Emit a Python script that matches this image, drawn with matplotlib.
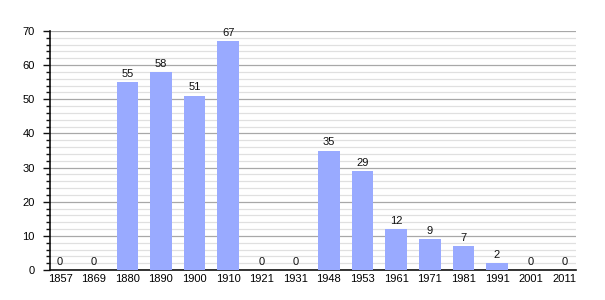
import matplotlib
matplotlib.use("Agg")
import matplotlib.pyplot as plt
from matplotlib.ticker import MultipleLocator

years = ["1857", "1869", "1880", "1890", "1900", "1910", "1921", "1931",
         "1948", "1953", "1961", "1971", "1981", "1991", "2001", "2011"]
values = [0, 0, 55, 58, 51, 67, 0, 0, 35, 29, 12, 9, 7, 2, 0, 0]

plt.rcParams['font.family'] = ['Liberation Sans', 'DejaVu Sans']
fig = plt.figure(figsize=(6.05, 3.0), dpi=100)
ax = fig.add_axes([50/605, 30/300, 526/605, 239/300])

x = list(range(len(years)))
ax.bar(x, values, width=0.64, color="#99aaff", zorder=3)
for xi, v in zip(x, values):
    ax.text(xi, v + 1.0, str(v), ha="center", va="bottom", fontsize=8, color="#111111", zorder=4)

ax.set_xlim(-0.3, len(years) - 0.65)
ax.set_ylim(0, 70)
ax.set_xticks(x)
ax.set_xticklabels(years, fontsize=8)
ax.yaxis.set_major_locator(MultipleLocator(10))
ax.yaxis.set_minor_locator(MultipleLocator(2))
ax.tick_params(axis='y', labelsize=8, which='major', length=5, width=1, color="#111111", pad=6)
ax.tick_params(axis='y', which='minor', length=3, width=1, color="#111111")
ax.tick_params(axis='x', length=0, pad=3)
ax.grid(axis='y', which='major', color="#a8a8a8", linewidth=0.9, zorder=1)
ax.grid(axis='y', which='minor', color="#e0e0e0", linewidth=0.9, zorder=1)
for s in ['top', 'right']:
    ax.spines[s].set_visible(False)
ax.spines['left'].set_color("#111111")
ax.spines['bottom'].set_color("#111111")
ax.spines['left'].set_linewidth(1.2)
ax.spines['bottom'].set_linewidth(1.2)

fig.savefig("out.png", dpi=100, facecolor="white")
